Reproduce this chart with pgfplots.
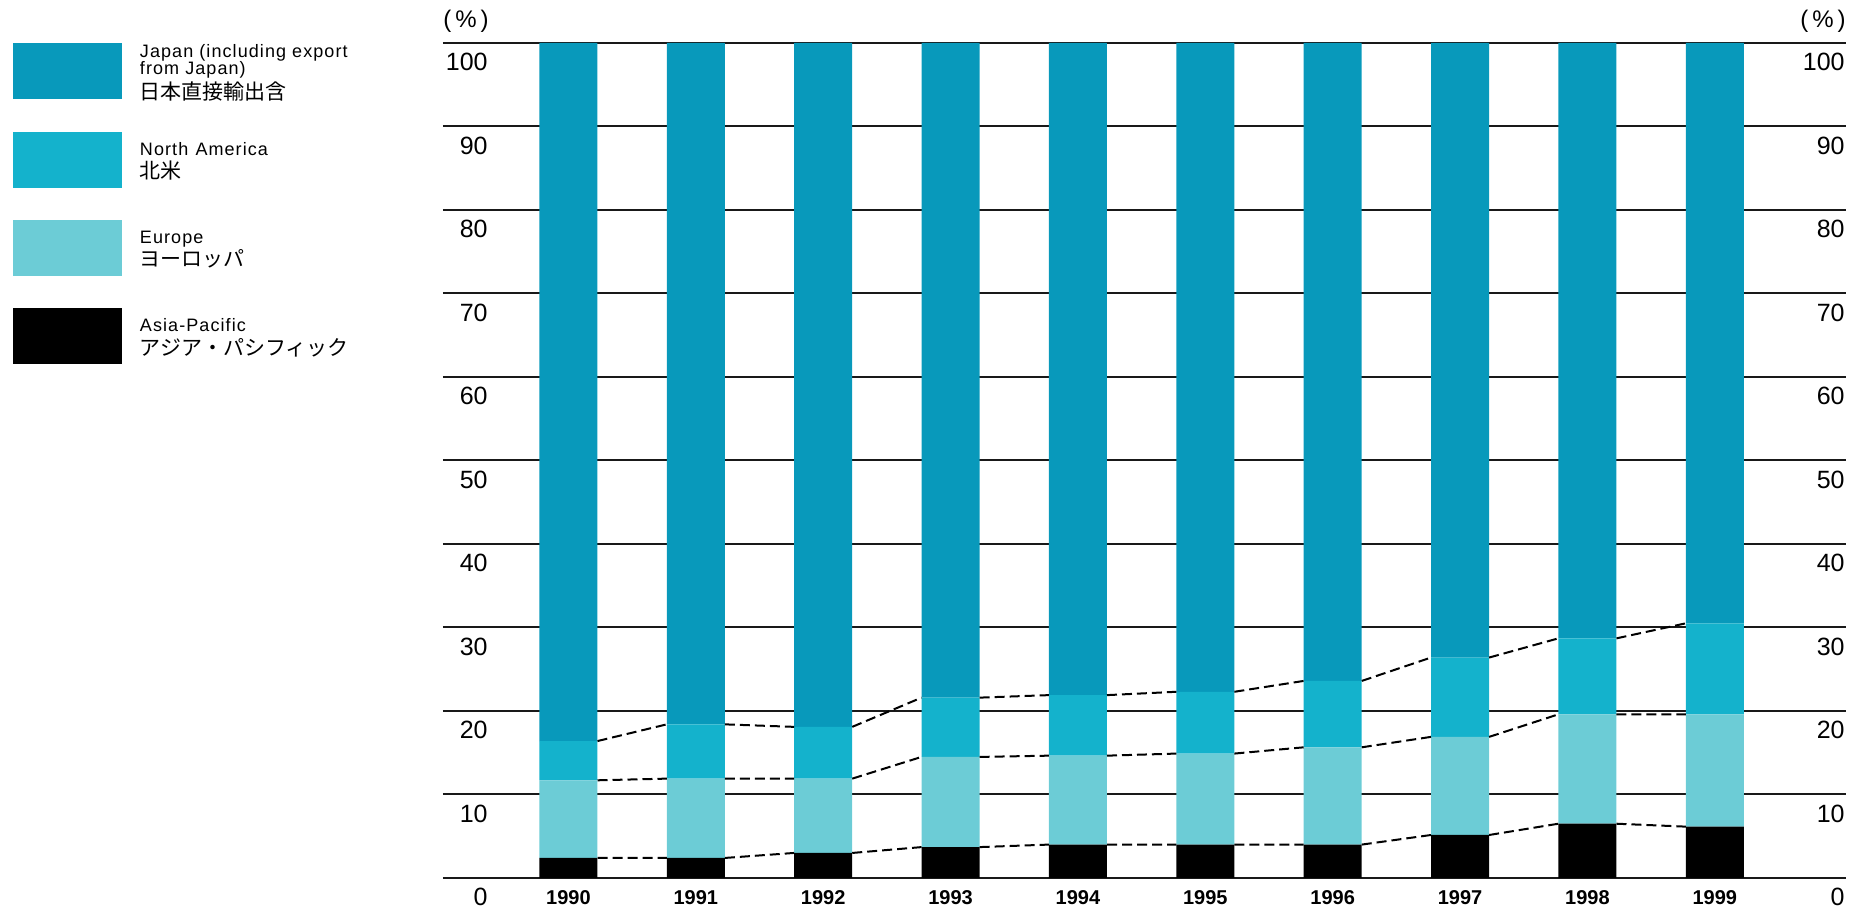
\documentclass[border=0pt]{standalone}
\usepackage{fontspec}
\setmainfont{Liberation Sans}
\newfontfamily\jp{Noto Sans CJK JP}
\newfontfamily\leg[LetterSpace=6]{Liberation Sans}
\usepackage{pgfplots}
\pgfplotsset{compat=1.18}
\definecolor{japan}{HTML}{0899BB}
\definecolor{namer}{HTML}{14B2CC}
\definecolor{europe}{HTML}{6CCCD6}
\pgfplotsset{legbox/.style={legend image code/.code={\fill[##1] (0pt,-13.15pt) rectangle (54.5pt,14.85pt);}}}
\begin{document}
\begin{tikzpicture}
\begin{axis}[
  at={(221.5pt,18pt)}, anchor=south west,
  scale only axis, width=701.5pt, height=417.5pt,
  xmin=-0.985, xmax=10.03, ymin=0, ymax=100, clip=false,
  ybar stacked, bar width=29pt,
  xtick={0,...,9},
  xticklabels={1990,1991,1992,1993,1994,1995,1996,1997,1998,1999},
  ytick={0,10,...,100},
  ymajorgrids, major grid style={black!90, line width=1pt},
  axis line style={draw=none}, major tick length=0pt,
  /pgf/number format/assume math mode=true,
  yticklabel style={font=\fontsize{12.5}{14}\selectfont, anchor=east, inner sep=0pt, xshift=22.5pt, yshift=-9.5pt},
  xticklabel style={font=\fontsize{10}{12}\selectfont\bfseries, anchor=north, inner sep=0pt, yshift=-6pt},
  legend cell align=left,
  legend style={at={(-0.3065,1.0169)}, anchor=north west, draw=none, fill=none,
    inner sep=0pt, outer sep=0pt, row sep=0pt, column sep=9pt,
    nodes={inner sep=0pt, text depth={}},
    font=\leg\fontsize{9}{8.5}\selectfont},
]
\addplot[fill=black, draw=none, forget plot] coordinates {(0,2.4) (1,2.4) (2,3.0) (3,3.7) (4,4.0) (5,4.0) (6,4.0) (7,5.15) (8,6.5) (9,6.15)};
\addplot[fill=europe, draw=none, forget plot] coordinates {(0,9.3) (1,9.5) (2,8.9) (3,10.8) (4,10.65) (5,10.9) (6,11.65) (7,11.75) (8,13.1) (9,13.45)};
\addplot[fill=namer, draw=none, forget plot] coordinates {(0,4.7) (1,6.5) (2,6.2) (3,7.1) (4,7.25) (5,7.4) (6,7.95) (7,9.5) (8,9.1) (9,10.9)};
\addplot[fill=japan, draw=none, forget plot] coordinates {(0,83.6) (1,81.6) (2,81.9) (3,78.4) (4,78.1) (5,77.7) (6,76.4) (7,73.6) (8,71.3) (9,69.5)};
\addlegendimage{legbox, fill=japan, draw=none}
\addlegendentry{\parbox[c][44.15pt][c]{160pt}{\raggedright Japan (including export\par from Japan)\par{\jp\fontsize{10.5}{12.5}\selectfont 日本直接輸出含\par}}}
\addlegendimage{legbox, fill=namer, draw=none}
\addlegendentry{\parbox[c][44.15pt][c]{160pt}{\raggedright North\hspace{0.4em}America\par{\jp\fontsize{10.5}{11.5}\selectfont 北米\par}}}
\addlegendimage{legbox, fill=europe, draw=none}
\addlegendentry{\parbox[c][44.15pt][c]{160pt}{\raggedright Europe\par{\jp\fontsize{10.5}{11.5}\selectfont ヨーロッパ\par}}}
\addlegendimage{legbox, fill=black, draw=none}
\addlegendentry{\parbox[c][44.15pt][c]{160pt}{\raggedright Asia-Pacific\par{\jp\fontsize{10.5}{12}\selectfont アジア・パシフィック\par}}}
\node[anchor=south west, inner sep=0pt, font=\fontsize{12}{14}\selectfont, yshift=5pt] at (axis description cs:0,1) {(\,\%\,)};
\end{axis}
\begin{axis}[
  at={(221.5pt,18pt)}, anchor=south west,
  scale only axis, width=701.5pt, height=417.5pt,
  xmin=-0.985, xmax=10.03, ymin=0, ymax=100, clip=false,
  axis line style={draw=none}, major tick length=0pt,
  xtick=\empty, ytick={0,10,...,100}, yticklabel pos=right,
  /pgf/number format/assume math mode=true,
  yticklabel style={font=\fontsize{12.5}{14}\selectfont, anchor=east, inner sep=0pt, xshift=-0.5pt, yshift=-9.5pt},
  unbounded coords=jump,
]
\addplot[black, line width=1pt, dash pattern=on 5pt off 2.5pt, mark=none] coordinates {(0.228,2.4) (0.772,2.4) (1,nan) (1.228,2.4) (1.772,3.0) (2,nan) (2.228,3.0) (2.772,3.7) (3,nan) (3.228,3.7) (3.772,4.0) (4,nan) (4.228,4.0) (4.772,4.0) (5,nan) (5.228,4.0) (5.772,4.0) (6,nan) (6.228,4.0) (6.772,5.15) (7,nan) (7.228,5.15) (7.772,6.5) (8,nan) (8.228,6.5) (8.772,6.15)};
\addplot[black, line width=1pt, dash pattern=on 5pt off 2.5pt, mark=none] coordinates {(0.228,11.7) (0.772,11.9) (1,nan) (1.228,11.9) (1.772,11.9) (2,nan) (2.228,11.9) (2.772,14.5) (3,nan) (3.228,14.5) (3.772,14.65) (4,nan) (4.228,14.65) (4.772,14.9) (5,nan) (5.228,14.9) (5.772,15.65) (6,nan) (6.228,15.65) (6.772,16.9) (7,nan) (7.228,16.9) (7.772,19.6) (8,nan) (8.228,19.6) (8.772,19.6)};
\addplot[black, line width=1pt, dash pattern=on 5pt off 2.5pt, mark=none] coordinates {(0.228,16.4) (0.772,18.4) (1,nan) (1.228,18.4) (1.772,18.1) (2,nan) (2.228,18.1) (2.772,21.6) (3,nan) (3.228,21.6) (3.772,21.9) (4,nan) (4.228,21.9) (4.772,22.3) (5,nan) (5.228,22.3) (5.772,23.6) (6,nan) (6.228,23.6) (6.772,26.4) (7,nan) (7.228,26.4) (7.772,28.7) (8,nan) (8.228,28.7) (8.772,30.5)};
\node[anchor=south east, inner sep=0pt, font=\fontsize{12}{14}\selectfont, yshift=5pt] at (axis description cs:1,1) {(\,\%\,)};
\end{axis}
\pgfresetboundingbox
\useasboundingbox (0,0) rectangle (931.5pt,457pt);
\end{tikzpicture}
\end{document}
